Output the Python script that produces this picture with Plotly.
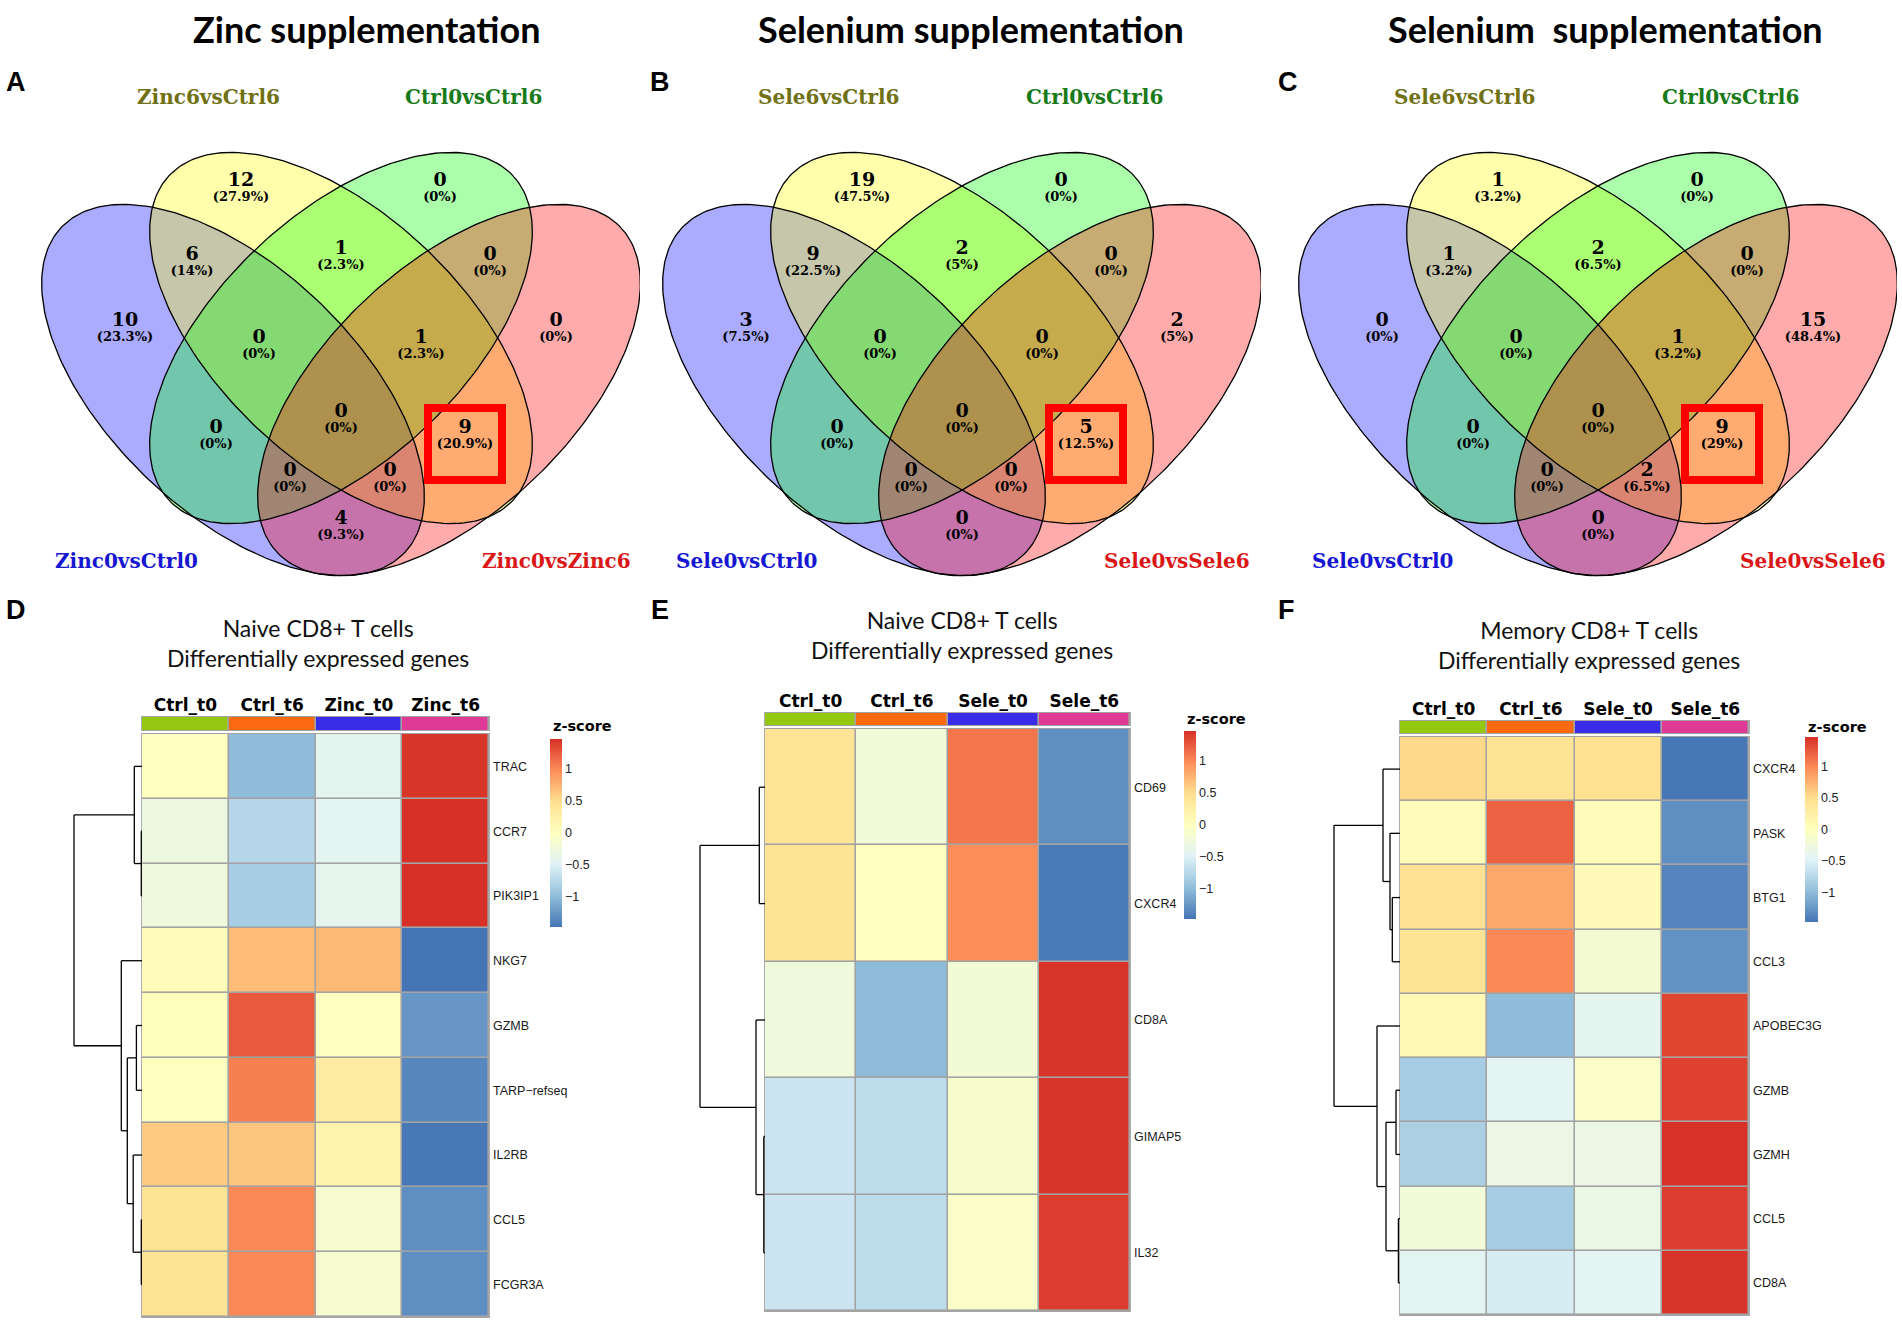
import numpy as np
import plotly.graph_objects as go

W, H = 1902, 1325

# ======================= DATA =======================
# Venn regions: B = blue set, Y = yellow set, G = green set, R = red set
REGIONS = ["Y", "G", "BY", "YG", "GR", "B", "R", "BYG", "YGR", "BG", "BYGR", "YR", "BGR", "BYR", "BR"]
venn_a_counts = [12, 0, 6, 1, 0, 10, 0, 0, 1, 0, 0, 9, 0, 0, 4]
venn_b_counts = [19, 0, 9, 2, 0, 3, 2, 0, 0, 0, 0, 5, 0, 0, 0]
venn_c_counts = [1, 0, 1, 2, 0, 0, 15, 0, 1, 0, 0, 9, 0, 2, 0]

venn_a_sets = ["Zinc0vsCtrl0", "Zinc6vsCtrl6", "Ctrl0vsCtrl6", "Zinc0vsZinc6"]
venn_b_sets = ["Sele0vsCtrl0", "Sele6vsCtrl6", "Ctrl0vsCtrl6", "Sele0vsSele6"]
venn_c_sets = ["Sele0vsCtrl0", "Sele6vsCtrl6", "Ctrl0vsCtrl6", "Sele0vsSele6"]

venn_titles = ["Zinc supplementation", "Selenium supplementation", "Selenium\u00a0 supplementation"]
venn_letters = ["A", "B", "C"]
highlight_region = "YR"

# Heatmaps (row z-scores)
heat_d_cols = ["Ctrl_t0", "Ctrl_t6", "Zinc_t0", "Zinc_t6"]
heat_d_genes = ["TRAC", "CCR7", "PIK3IP1", "NKG7", "GZMB", "TARP\u2212refseq", "IL2RB", "CCL5", "FCGR3A"]
heat_d_z = [
    [-0.02, -1.00, -0.42, 1.44],
    [-0.28, -0.76, -0.43, 1.47],
    [-0.25, -0.85, -0.40, 1.47],
    [0.05, 0.70, 0.72, -1.47],
    [0.03, 1.25, 0.00, -1.25],
    [0.00, 1.05, 0.30, -1.35],
    [0.62, 0.65, 0.18, -1.45],
    [0.45, 1.00, -0.15, -1.30],
    [0.45, 1.00, -0.15, -1.30],
]
heat_d_link = [(1, 2, 0.7), (0, 9, 7.7), (7, 8, 0.7), (6, 11, 8.8), (4, 5, 5.6),
               (13, 12, 14.7), (3, 14, 20.7), (10, 15, 68)]

heat_e_cols = ["Ctrl_t0", "Ctrl_t6", "Sele_t0", "Sele_t6"]
heat_e_genes = ["CD69", "CXCR4", "CD8A", "GIMAP5", "IL32"]
heat_e_z = [
    [0.42, -0.22, 1.10, -1.30],
    [0.45, 0.00, 0.98, -1.43],
    [-0.25, -1.00, -0.20, 1.45],
    [-0.62, -0.70, -0.12, 1.44],
    [-0.62, -0.70, -0.08, 1.40],
]
heat_e_link = [(0, 1, 5.7), (3, 4, 1.2), (2, 6, 9.0), (5, 7, 65)]

heat_f_cols = ["Ctrl_t0", "Ctrl_t6", "Sele_t0", "Sele_t6"]
heat_f_genes = ["CXCR4", "PASK", "BTG1", "CCL3", "APOBEC3G", "GZMB", "GZMH", "CCL5", "CD8A"]
heat_f_z = [
    [0.53, 0.45, 0.48, -1.46],
    [0.05, 1.20, 0.05, -1.30],
    [0.47, 0.82, 0.08, -1.37],
    [0.45, 1.00, -0.17, -1.28],
    [0.10, -1.00, -0.42, 1.35],
    [-0.85, -0.45, -0.08, 1.38],
    [-0.82, -0.32, -0.32, 1.46],
    [-0.22, -0.85, -0.33, 1.40],
    [-0.45, -0.55, -0.45, 1.45],
]
heat_f_link = [(2, 3, 7.7), (1, 9, 10), (0, 10, 17), (5, 6, 4), (7, 8, 1.6),
               (12, 13, 14), (4, 14, 23), (11, 15, 66)]

heat_titles = ["Naive CD8+ T cells<br>Differentially expressed genes",
               "Naive CD8+ T cells<br>Differentially expressed genes",
               "Memory CD8+ T cells<br>Differentially expressed genes"]
heat_letters = ["D", "E", "F"]
cb_ticks = [-1, -0.5, 0, 0.5, 1]
cb_ticktext = ["\u22121", "\u22120.5", "0", "0.5", "1"]

# ======================= STYLE / LAYOUT =======================
VENN_OFFSETS = [0, 621, 1257]
VENN_W, VENN_H = 640, 600
ELL_A, ELL_B = 240, 125
ELL_SQUISH = 0.97
ELLIPSES = [(233, 390, 1), (341, 338, 1), (341, 338, -1), (449, 390, -1)]  # B, Y, G, R
FILL_COLORS = ["rgba(0,0,255,0.33)", "rgba(255,255,0,0.33)", "rgba(0,255,0,0.33)", "rgba(255,0,0,0.33)"]
SET_LABEL_COLORS = ["#1717d3", "#707014", "#197a19", "#db1616"]
SET_LABEL_POS = [(126, 561), (208, 97), (473, 97), (556, 561)]
REGION_POS = {"Y": (241, 189), "G": (440, 189), "BY": (192, 263), "YG": (341, 257), "GR": (490, 263),
              "B": (125, 329), "R": (556, 329), "BYG": (259, 346), "YGR": (421, 346),
              "BG": (216, 436), "BYGR": (341, 420), "YR": (465, 436), "BGR": (290, 479),
              "BYR": (390, 479), "BR": (341, 527)}
TITLE_POS = [(367, 29), (971, 29), (1605, 29)]
LETTER_POS = [(16, 82), (660, 82), (1288, 82)]

HEAT_GEOM = [
    dict(x0=142, x1=489, y0=734, y1=1317, bar=(717, 730), cb=(550, 739, 12, 188), cbt=(551, 726),
         title=(318, 643), letter=(16, 610), dend=72),
    dict(x0=765, x1=1130, y0=729, y1=1311, bar=(713, 725), cb=(1184, 731, 12, 188), cbt=(1185, 719),
         title=(962, 635), letter=(660, 610), dend=72),
    dict(x0=1400, x1=1749, y0=737, y1=1315, bar=(721, 733), cb=(1805, 737, 13, 185), cbt=(1806, 727),
         title=(1589, 645), letter=(1286, 610), dend=72),
]
ANNOT_COLORS = ["#94c710", "#fb6a10", "#3b2ce8", "#df3b96"]
RDYLBU = ["#4575B4", "#91BFDB", "#E0F3F8", "#FFFFBF", "#FEE090", "#FC8D59", "#D73027"]
COLORSCALE = [[i / 6, c] for i, c in enumerate(RDYLBU)]
ZLIM = 1.47
GRID_GREY = "#a3a3a3"


def px(x):
    return x / W


def py(y):
    return 1 - y / H


def pct_text(c, total):
    s = f"{100 * c / total:.1f}"
    if s.endswith(".0"):
        s = s[:-2]
    return f"({s}%)"


fig = go.Figure()
layout = dict(width=W, height=H, margin=dict(l=0, r=0, t=0, b=0), autosize=False,
              paper_bgcolor="white", plot_bgcolor="rgba(0,0,0,0)", showlegend=False)
annotations = []
shapes = []

# ======================= VENN PANELS =======================
t = np.linspace(0, 2 * np.pi, 241)
venn_counts = [venn_a_counts, venn_b_counts, venn_c_counts]
venn_sets = [venn_a_sets, venn_b_sets, venn_c_sets]
for i in range(3):
    ax = "" if i == 0 else str(i + 1)
    xa, ya = "x" + ax, "y" + ax
    off = VENN_OFFSETS[i]
    layout["xaxis" + ax] = dict(domain=[px(off), px(off + VENN_W)], range=[0, VENN_W], visible=False,
                                anchor=ya, fixedrange=True)
    layout["yaxis" + ax] = dict(domain=[py(VENN_H), 1], range=[VENN_H, 0], visible=False,
                                anchor=xa, fixedrange=True)
    polys = []
    for (cx, cy, d) in ELLIPSES:
        ux, uy = 1 / np.sqrt(2), d / np.sqrt(2)
        vx, vy = -uy, ux
        ex = cx + ELL_A * np.cos(t) * ux + ELL_B * np.sin(t) * vx
        ey = cy + ELL_SQUISH * (ELL_A * np.cos(t) * uy + ELL_B * np.sin(t) * vy)
        polys.append((ex, ey))
    for (ex, ey), fc in zip(polys, FILL_COLORS):
        fig.add_trace(go.Scatter(x=ex, y=ey, xaxis=xa, yaxis=ya, mode="lines", fill="toself",
                                 fillcolor=fc, line=dict(width=0), hoverinfo="skip"))
    for (ex, ey) in polys:
        fig.add_trace(go.Scatter(x=ex, y=ey, xaxis=xa, yaxis=ya, mode="lines",
                                 line=dict(color="black", width=1.3), hoverinfo="skip"))
    counts = venn_counts[i]
    total = sum(counts)
    rx = [REGION_POS[r][0] for r in REGIONS]
    ry = [REGION_POS[r][1] for r in REGIONS]
    fig.add_trace(go.Scatter(x=rx, y=[v - 8 for v in ry], xaxis=xa, yaxis=ya, mode="text",
                             text=[str(c) for c in counts],
                             textfont=dict(family="DejaVu Serif", size=19, color="black", weight="bold"),
                             hoverinfo="skip"))
    fig.add_trace(go.Scatter(x=rx, y=[v + 9 for v in ry], xaxis=xa, yaxis=ya, mode="text",
                             text=[pct_text(c, total) for c in counts],
                             textfont=dict(family="DejaVu Serif", size=13, color="black", weight="bold"),
                             hoverinfo="skip"))
    for lbl, (lx, ly), col in zip(venn_sets[i], SET_LABEL_POS, SET_LABEL_COLORS):
        annotations.append(dict(x=lx, y=ly, xref=xa, yref=ya, text=lbl, showarrow=False,
                                xanchor="center", yanchor="middle",
                                font=dict(family="DejaVu Serif", size=20, color=col, weight="bold")))
    hx, hy = REGION_POS[highlight_region]
    shapes.append(dict(type="rect", xref=xa, yref=ya, x0=hx - 37, x1=hx + 37, y0=hy - 28, y1=hy + 44,
                       line=dict(color="#ff0000", width=8), fillcolor="rgba(0,0,0,0)", layer="above"))
    tx, ty = TITLE_POS[i]
    annotations.append(dict(x=px(tx), y=py(ty), xref="paper", yref="paper", text=venn_titles[i],
                            showarrow=False, xanchor="center", yanchor="middle",
                            font=dict(family="Lato", size=36, color="black", weight="bold")))
    lx, ly = LETTER_POS[i]
    annotations.append(dict(x=px(lx), y=py(ly), xref="paper", yref="paper", text=venn_letters[i],
                            showarrow=False, xanchor="center", yanchor="middle",
                            font=dict(family="Liberation Sans", size=27, color="black", weight="bold")))

# ======================= HEATMAPS =======================
heat_cols = [heat_d_cols, heat_e_cols, heat_f_cols]
heat_genes = [heat_d_genes, heat_e_genes, heat_f_genes]
heat_z = [heat_d_z, heat_e_z, heat_f_z]
heat_links = [heat_d_link, heat_e_link, heat_f_link]


def dendro_lines(link, n):
    pos = {k: float(k) for k in range(n)}
    hgt = {k: 0.0 for k in range(n)}
    xs, ys = [], []
    for k, (a, b, h) in enumerate(link):
        for c in (a, b):
            xs += [-hgt[c], -h, None]
            ys += [pos[c], pos[c], None]
        xs += [-h, -h, None]
        ys += [pos[a], pos[b], None]
        pos[n + k] = (pos[a] + pos[b]) / 2
        hgt[n + k] = h
    return xs, ys


for i in range(3):
    g = HEAT_GEOM[i]
    hx, hy = str(4 + i), str(4 + i)
    bx, by = str(7 + i), str(7 + i)
    dx = str(10 + i)
    genes = heat_genes[i]
    n = len(genes)
    cols = heat_cols[i]
    # cells
    layout["xaxis" + hx] = dict(domain=[px(g["x0"]), px(g["x1"])], range=[-0.5, 3.5], visible=False,
                                anchor="y" + hy, fixedrange=True)
    layout["yaxis" + hy] = dict(domain=[py(g["y1"]), py(g["y0"])], range=[n - 0.5, -0.5], side="right",
                                anchor="x" + hx, tickvals=list(range(n)), ticktext=genes, ticks="",
                                showgrid=False, zeroline=False, showline=False, ticklabelstandoff=3,
                                tickfont=dict(family="Liberation Sans", size=12.5, color="#1a1a1a"),
                                fixedrange=True)
    shapes.append(dict(type="rect", xref="paper", yref="paper", x0=px(g["x0"] - 0.9), x1=px(g["x1"] + 0.9),
                       y0=py(g["y1"] + 0.9), y1=py(g["y0"] - 0.9), fillcolor=GRID_GREY,
                       line=dict(width=0), layer="below"))
    cbx, cby, cbw, cbl = g["cb"]
    fig.add_trace(go.Heatmap(z=heat_z[i], x=list(range(4)), y=list(range(n)), xaxis="x" + hx, yaxis="y" + hy,
                             colorscale=COLORSCALE, zmin=-ZLIM, zmax=ZLIM, xgap=1.6, ygap=1.6,
                             hoverinfo="skip",
                             colorbar=dict(x=px(cbx), xanchor="left", xpad=0, y=py(cby), yanchor="top",
                                           ypad=0, len=cbl, lenmode="pixels", thickness=cbw,
                                           thicknessmode="pixels", outlinewidth=0, tickvals=cb_ticks,
                                           ticktext=cb_ticktext, ticks="",
                                           tickfont=dict(family="Liberation Sans", size=12.5,
                                                         color="#222222"))))
    # annotation bar
    b0, b1 = g["bar"]
    layout["xaxis" + bx] = dict(domain=[px(g["x0"]), px(g["x1"])], range=[-0.5, 3.5], side="top",
                                anchor="y" + by, tickvals=list(range(4)), ticktext=cols, ticks="",
                                showgrid=False, zeroline=False, showline=False, ticklabelstandoff=2,
                                tickfont=dict(family="DejaVu Sans", size=17, color="black", weight="bold"),
                                fixedrange=True)
    layout["yaxis" + by] = dict(domain=[py(b1), py(b0)], range=[-0.5, 0.5], visible=False,
                                anchor="x" + bx, fixedrange=True)
    shapes.append(dict(type="rect", xref="paper", yref="paper", x0=px(g["x0"] - 0.9), x1=px(g["x1"] + 0.9),
                       y0=py(b1 + 0.9), y1=py(b0 - 0.9), fillcolor=GRID_GREY,
                       line=dict(width=0), layer="below"))
    disc = []
    for k, c in enumerate(ANNOT_COLORS):
        disc += [[k / 4, c], [(k + 1) / 4, c]]
    fig.add_trace(go.Heatmap(z=[[0, 1, 2, 3]], x=list(range(4)), y=[0], xaxis="x" + bx, yaxis="y" + by,
                             colorscale=disc, zmin=-0.5, zmax=3.5, xgap=1.6, showscale=False,
                             hoverinfo="skip"))
    # dendrogram
    dw = g["dend"]
    layout["xaxis" + dx] = dict(domain=[px(g["x0"] - dw), px(g["x0"])], range=[-dw, 0], visible=False,
                                anchor="y" + hy, fixedrange=True)
    lx_, ly_ = dendro_lines(heat_links[i], n)
    fig.add_trace(go.Scatter(x=lx_, y=ly_, xaxis="x" + dx, yaxis="y" + hy, mode="lines",
                             line=dict(color="black", width=1.3), hoverinfo="skip",
                             cliponaxis=False))
    # titles and labels
    tx, ty = g["title"]
    annotations.append(dict(x=px(tx), y=py(ty), xref="paper", yref="paper", text=heat_titles[i],
                            showarrow=False, xanchor="center", yanchor="middle",
                            font=dict(family="Lato", size=23, color="#111111")))
    cx_, cy_ = g["cbt"]
    annotations.append(dict(x=px(cx_), y=py(cy_), xref="paper", yref="paper", text="z-score",
                            showarrow=False, xanchor="left", yanchor="middle",
                            font=dict(family="DejaVu Sans", size=14.5, color="black", weight="bold")))
    lx, ly = g["letter"]
    annotations.append(dict(x=px(lx), y=py(ly), xref="paper", yref="paper", text=heat_letters[i],
                            showarrow=False, xanchor="center", yanchor="middle",
                            font=dict(family="Liberation Sans", size=27, color="black", weight="bold")))

layout["annotations"] = annotations
layout["shapes"] = shapes
fig.update_layout(**layout)
fig.write_html("out.html", config={"displayModeBar": False},
               post_script="document.body.style.margin='0px';document.body.style.overflow='hidden';")
